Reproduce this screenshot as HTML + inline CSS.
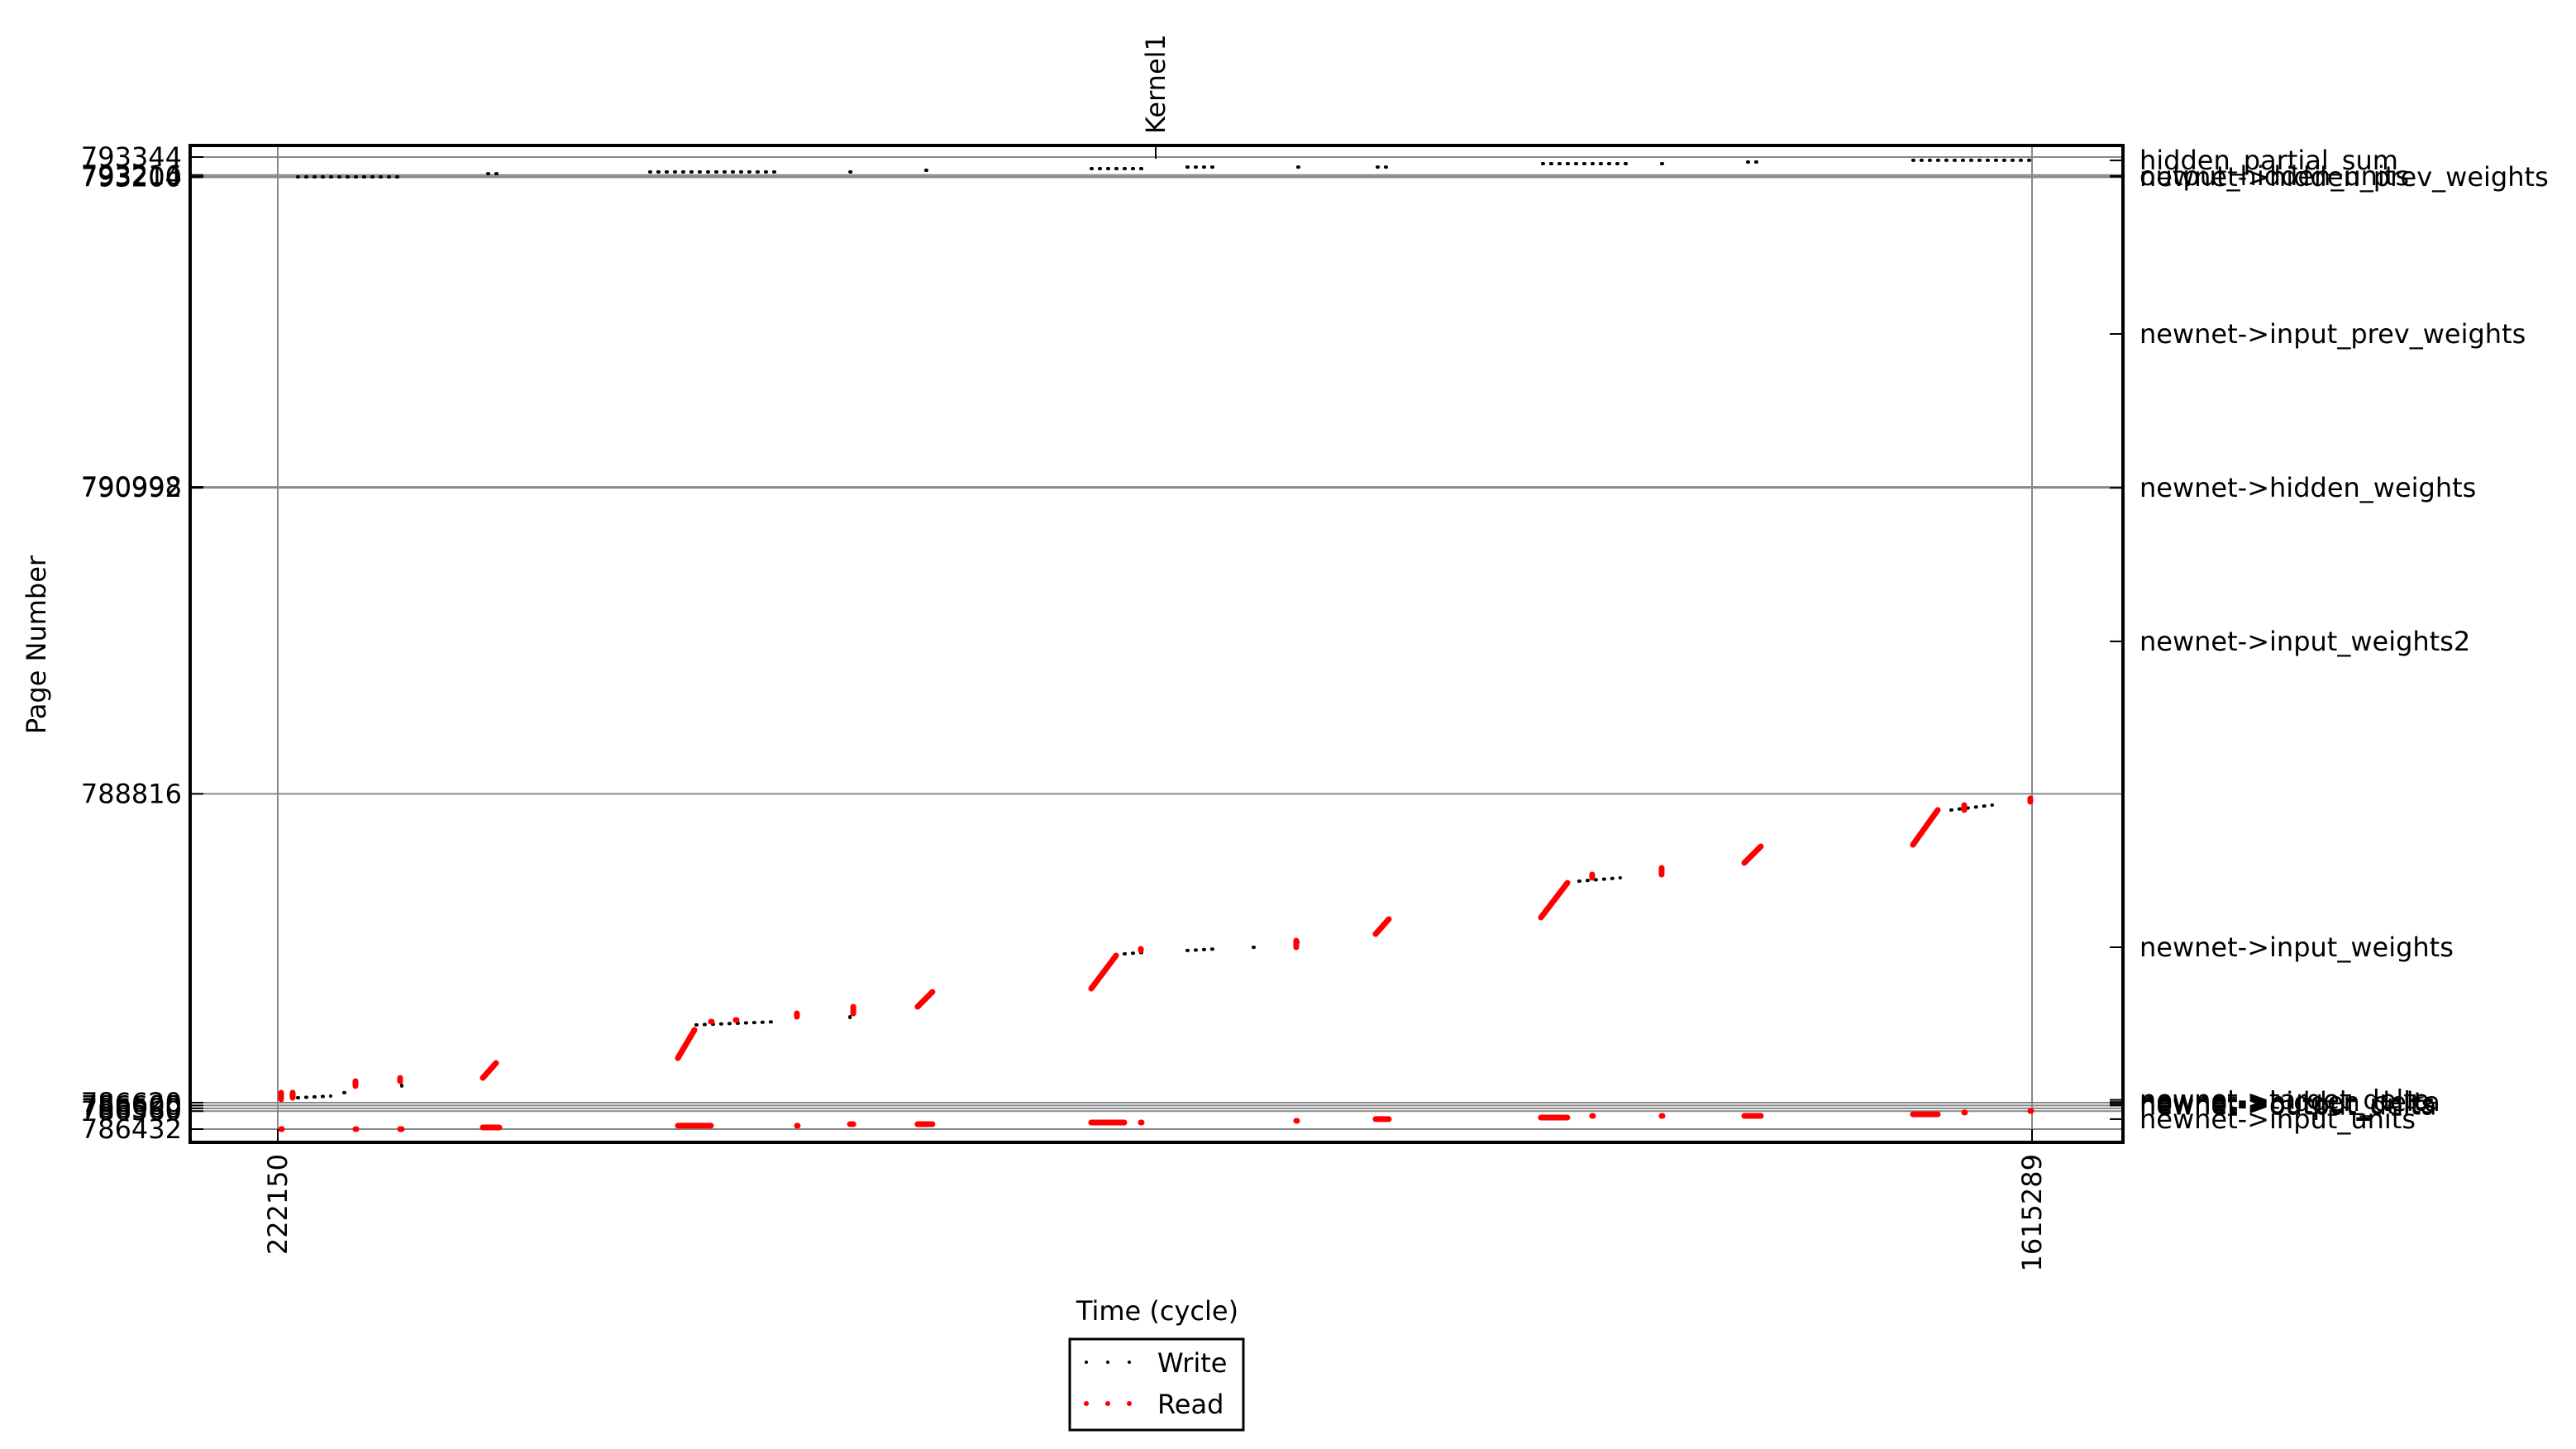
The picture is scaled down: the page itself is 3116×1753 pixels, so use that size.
<!DOCTYPE html>
<html><head><meta charset="utf-8"><style>
html,body{margin:0;padding:0;background:#fff;}
svg text{font-family:"DejaVu Sans","Liberation Sans",sans-serif;fill:#000;}
</style></head><body>
<svg id="chart" width="3116" height="1748" xmlns="http://www.w3.org/2000/svg">
<g id="grid"></g>
<g id="marks"></g>
<g id="axes"></g>
<g id="legend">
<rect x="1294" y="1620" width="210" height="110" fill="#fff" stroke="#000" stroke-width="3"/>
<g>
<circle cx="1314" cy="1648" r="2" fill="#000"/><circle cx="1340" cy="1648" r="2" fill="#000"/><circle cx="1366" cy="1648" r="2" fill="#000"/>
<text x="1400" y="1660" font-size="32">Write</text></g>
<g>
<circle cx="1314" cy="1698" r="3" fill="#f00"/><circle cx="1340" cy="1698" r="3" fill="#f00"/><circle cx="1366" cy="1698" r="3" fill="#f00"/>
<text x="1400" y="1710" font-size="32">Read</text></g>
</g>
</svg>
<script>
// ---- data ----
const xTicks = [222150, 1615289];
const yTicksLeft = [786432, 786560, 786580, 786600, 786620, 788816, 790992, 790998, 793200, 793204, 793216, 793344];
const yLabelsLeft = ["786432","786560","786580","786600","786620","788816","790992","790998","793200","793204","793216","793344"];
const yTicksRight = [793320, 793204, 793210, 792086, 790992, 789900, 787725, 786640, 786625, 786612, 786600, 786503];
const yLabelsRight = ["hidden_partial_sum","newnet->hidden_prev_weights","output_hidden_units","newnet->input_prev_weights","newnet->hidden_weights","newnet->input_weights2","newnet->input_weights","newnet->target_delta","newnet->hidden_delta","newnet->output_units","newnet->output_delta","newnet->input_units"];
// segments: [x0, x1, y0, y1]
const readSegs = [
[224776,224776,786644,786691],[233967,233967,786655,786691],[283861,283861,786738,786773],[319312,319312,786773,786796],
[384962,395466,786796,786902],[539896,553026,786937,787137],[566156,566156,787196,787196],[585851,585851,787208,787208],
[634432,634432,787231,787255],[679196,679196,787255,787302],[730220,742037,787302,787408],[868146,887841,787431,787666],
[907536,907536,787702,787713],[1030958,1030958,787725,787772],[1093982,1104486,787819,787925],[1225282,1246290,787937,788183],
[1265985,1265985,788219,788242],[1321131,1321131,788242,788289],[1386781,1399911,788325,788442],[1520707,1540402,788454,788701],
[1561410,1561410,788701,788736],[1613930,1613930,788760,788783],
[224776,224776,786432,786432],[283861,283861,786432,786432],[319312,320625,786432,786432],[384962,398092,786444,786444],
[539896,566156,786456,786456],[634432,634432,786456,786456],[676570,679196,786467,786467],[730220,742037,786467,786467],
[868146,894406,786479,786479],[907536,907536,786479,786479],[1030958,1030958,786491,786491],[1093982,1104486,786503,786503],
[1225282,1246290,786514,786514],[1265985,1265985,786526,786526],[1321131,1321131,786526,786526],[1386781,1399911,786526,786526],
[1520707,1540402,786538,786538],[1561410,1561410,786550,786550],[1613930,1613930,786561,786561]
];
const writeSegs = [
[237906,264166,786655,786667],[274670,274670,786691,786691],[320625,320625,786738,786760],[554339,618676,787173,787196],
[676570,676570,787231,787208],[894406,911475,787678,787690],[944300,966621,787702,787713],[996820,996820,787725,787725],
[1032271,1032271,787760,787772],[1255481,1288306,788195,788219],[1550906,1583731,788701,788736],
[237906,320625,793203,793203],[388901,398092,793226,793226],[517575,618676,793238,793238],[676570,679196,793238,793238],
[736835,742037,793250,793250],[868146,911475,793262,793262],[944300,966621,793273,793273],[1032271,1032271,793273,793273],
[1095295,1104486,793273,793273],[1226595,1294871,793297,793297],[1321131,1321131,793297,793297],[1389407,1399911,793309,793309],
[1520707,1616556,793321,793321]
];
// ---- scales ----
const L=230,R=2568,T=176,B=1382;
function sx(v){return 336+(v-222150)*(2458-336)/(1615289-222150);}
function sy(v){return 1366-(v-786432)*0.17014;}
const NS="http://www.w3.org/2000/svg";
function mk(tag,attrs,parent){const e=document.createElementNS(NS,tag);for(const k in attrs)e.setAttribute(k,attrs[k]);parent.appendChild(e);return e;}
const grid=document.getElementById('grid'),marks=document.getElementById('marks'),axes=document.getElementById('axes');
// grid
yTicksLeft.forEach((v,i)=>{const l=mk('line',{x1:L,x2:R,y1:sy(v),y2:sy(v),stroke:'#888','stroke-width':2},grid);

});
xTicks.forEach(v=>{const l=mk('line',{x1:sx(v),x2:sx(v),y1:T,y2:B,stroke:'#888','stroke-width':2},grid);

});
// marks
function drawSegs(segs,color,w,name,dash){segs.forEach(s=>{
 const x0=sx(s[0]),x1=sx(s[1]),y0=sy(s[2]),y1=sy(s[3]);
 const a={x1:x0,y1:y0,x2:x1+(x1===x0&&y0===y1?1:0),y2:y1,stroke:color,'stroke-width':w,'stroke-linecap':'round'};
 if(dash)a['stroke-dasharray']=dash;
 const l=mk('line',a,marks);
 
 });}
drawSegs(writeSegs,'#000',4,'write-points','1 9');
drawSegs(readSegs,'#f00',7,'read-points',null);
// frame
const fr=mk('rect',{x:L,y:T,width:R-L,height:B-T,fill:'none',stroke:'#000','stroke-width':4},axes);


// left ticks
yTicksLeft.forEach((v,i)=>{const y=sy(v);
 mk('line',{x1:L,x2:L+16,y1:y,y2:y,stroke:'#000','stroke-width':2},axes);
 const t=mk('text',{x:L-10,y:y+11,'font-size':32,'text-anchor':'end'},axes);t.textContent=yLabelsLeft[i];
 
 });
// right ticks
yTicksRight.forEach((v,i)=>{const y=sy(v);
 mk('line',{x1:R-16,x2:R,y1:y,y2:y,stroke:'#000','stroke-width':2},axes);
 const t=mk('text',{x:2588,y:y+11,'font-size':32},axes);t.textContent=yLabelsRight[i];
 
 });
// x ticks
xTicks.forEach(v=>{const x=sx(v);
 mk('line',{x1:x,x2:x,y1:B,y2:B-16,stroke:'#000','stroke-width':2},axes);
 const t=mk('text',{x:0,y:0,'font-size':32,'text-anchor':'end',transform:`translate(${x+11},1396) rotate(-90)`},axes);t.textContent=String(v);
 
 });
// top kernel tick
mk('line',{x1:1398,x2:1398,y1:T,y2:T+16,stroke:'#000','stroke-width':2},axes);
const kt=mk('text',{x:0,y:0,'font-size':32,transform:'translate(1409,162) rotate(-90)'},axes);kt.textContent='Kernel1';


const xt=mk('text',{x:1400,y:1597,'font-size':32,'text-anchor':'middle'},axes);xt.textContent='Time (cycle)';


const yt=mk('text',{x:0,y:0,'font-size':32,'text-anchor':'middle',transform:'translate(55,780) rotate(-90)'},axes);yt.textContent='Page Number';


</script>
</body></html>
